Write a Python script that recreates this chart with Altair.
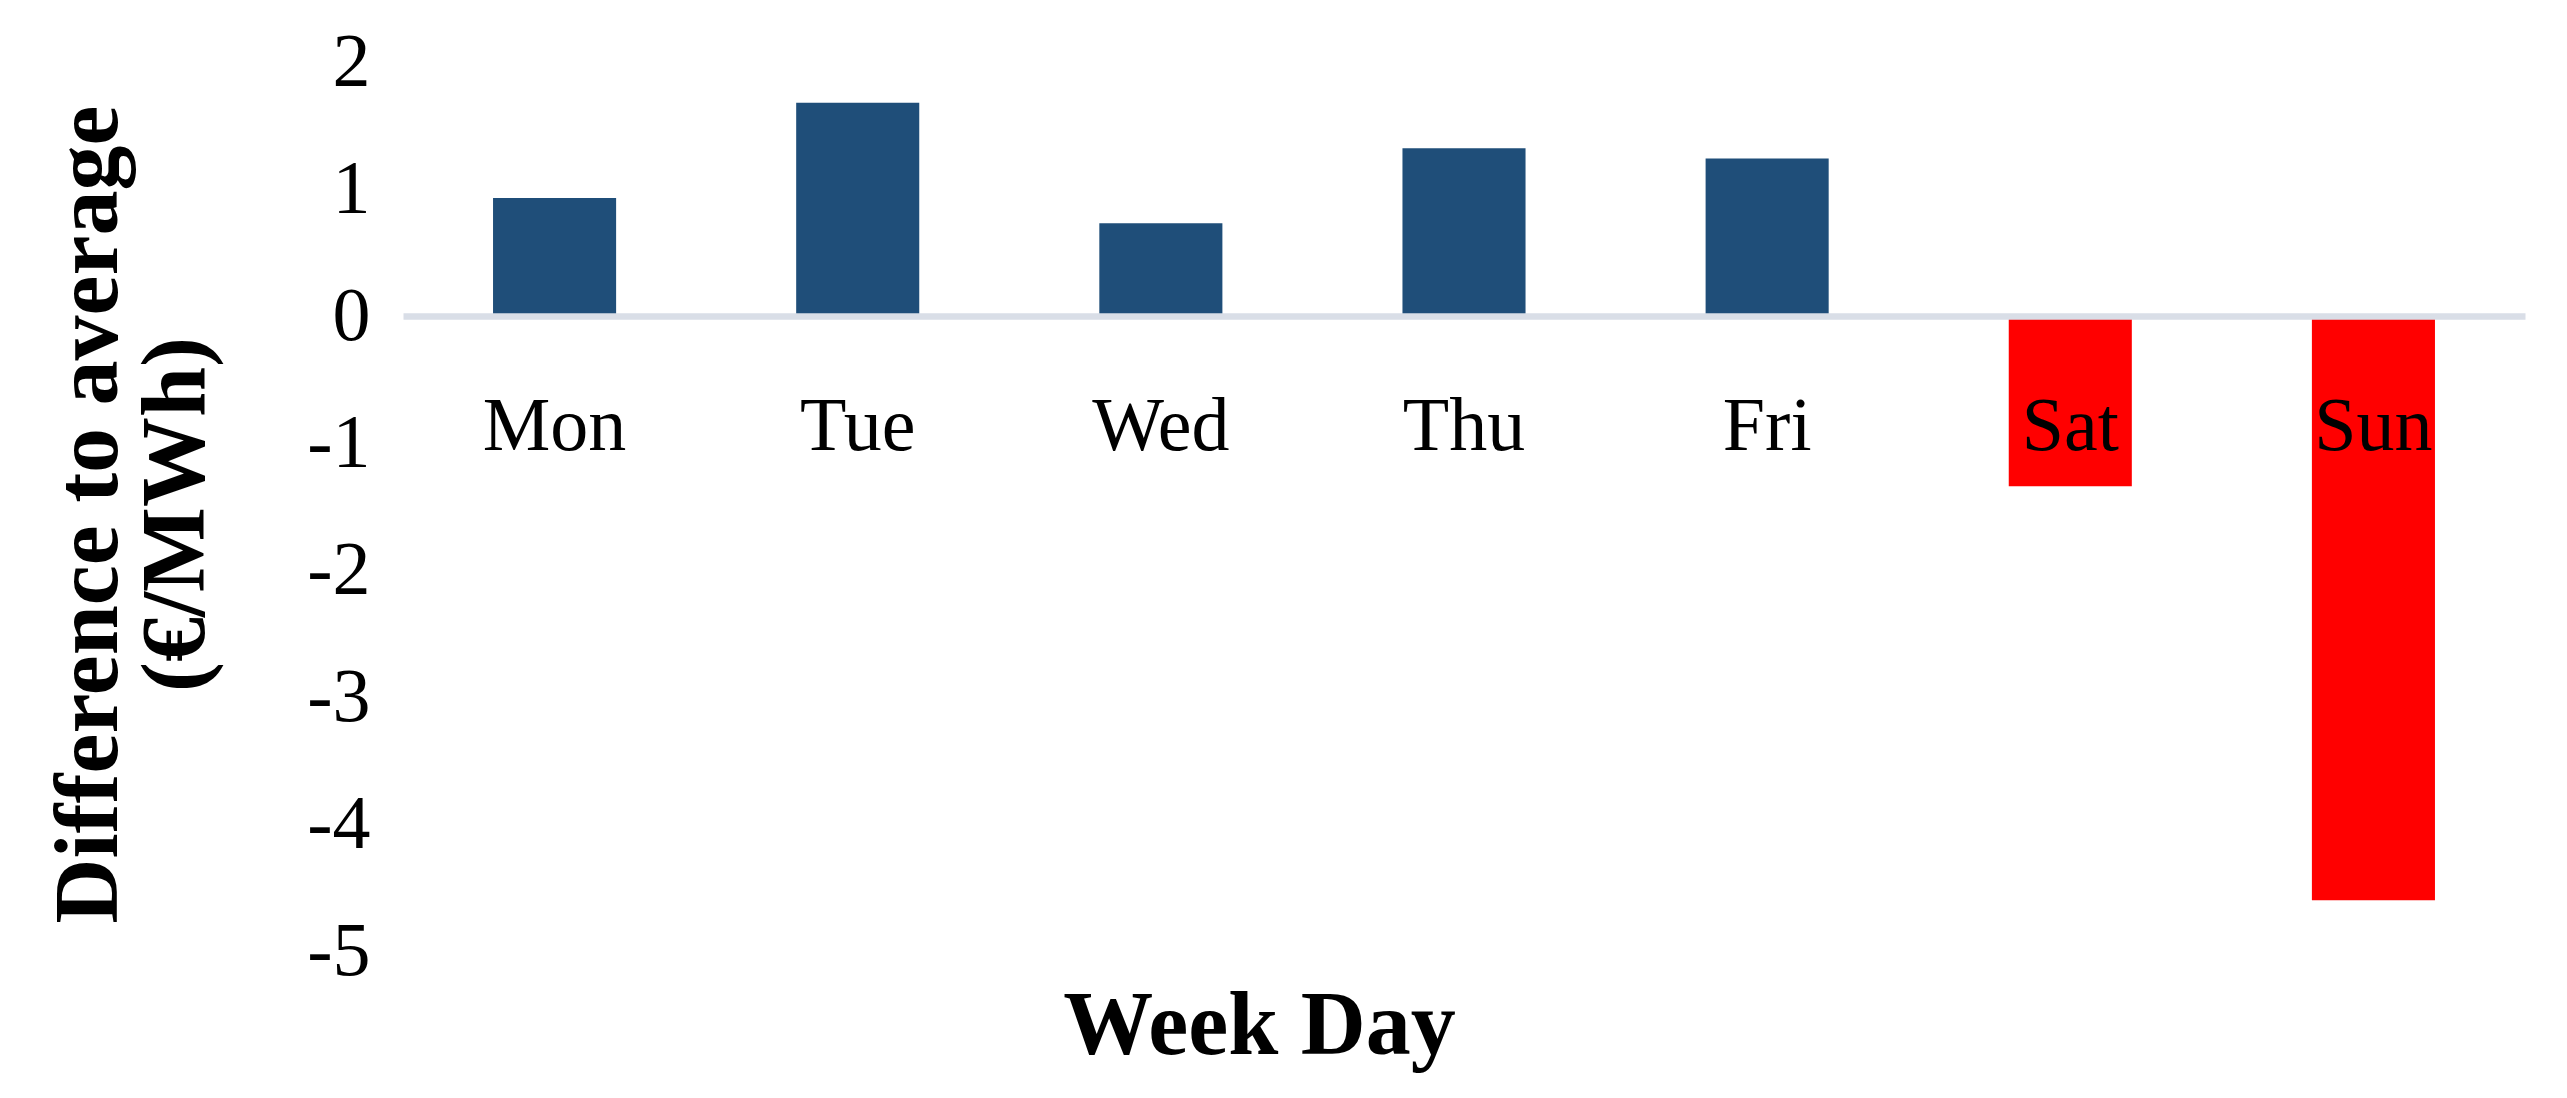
import altair as alt
import pandas as pd

days = ["Mon", "Tue", "Wed", "Thu", "Fri", "Sat", "Sun"]
values = [0.93, 1.68, 0.73, 1.32, 1.24, -1.34, -4.60]
y_ticks = [-5, -4, -3, -2, -1, 0, 1, 2]

df = pd.DataFrame({"day": days, "value": values})

FONT = "Liberation Serif"
W, H = 2122, 889
zero_px = H * 2 / 7  # plot-relative y of zero

chart = (
    alt.Chart(df)
    .mark_bar()
    .encode(
        x=alt.X(
            "day:N",
            sort=days,
            scale=alt.Scale(paddingInner=0.594, paddingOuter=0.297),
            axis=alt.Axis(
                title="Week Day",
                orient="bottom",
                offset=-(H - zero_px),
                domain=True,
                domainColor="#D9DEE7",
                domainWidth=6.5,
                ticks=False,
                tickSize=0,
                grid=False,
                labelAngle=0,
                labelFont=FONT,
                labelFontSize=76,
                labelColor="#000000",
                labelBaseline="middle",
                labelPadding=110,
                titleFont=FONT,
                titleFontSize=90,
                titleFontWeight="bold",
                titleColor="#000000",
                titleX=856,
                titleY=710,
                titleAlign="center",
                titleBaseline="middle",
                zindex=1,
            ),
        ),
        y=alt.Y(
            "value:Q",
            scale=alt.Scale(domain=[-5, 2], nice=False, zero=False),
            axis=alt.Axis(
                title=["Difference to average", "(€/MWh)"],
                values=y_ticks,
                labelExpr="datum.value + ''",
                domain=False,
                ticks=False,
                tickSize=0,
                grid=False,
                labelFont=FONT,
                labelFontSize=76,
                labelColor="#000000",
                labelBaseline="middle",
                labelAlign="right",
                labelPadding=33,
                titleFont=FONT,
                titleFontSize=90,
                titleFontWeight="bold",
                titleColor="#000000",
                titleLineHeight=87,
                titleX=-268,
                titleY=452,
                titleAlign="center",
            ),
        ),
        color=alt.condition(
            alt.datum.value < 0, alt.value("#FF0000"), alt.value("#1F4E79")
        ),
    )
    .properties(
        width=W,
        height=H,
        background="#FFFFFF",
        autosize=alt.AutoSizeParams(type="none"),
        padding={"left": 395, "top": 54, "right": 30, "bottom": 140},
    )
    .configure_view(strokeWidth=0, stroke="transparent")
)

chart.save("out.html", embed_options={"renderer": "svg", "actions": False})
